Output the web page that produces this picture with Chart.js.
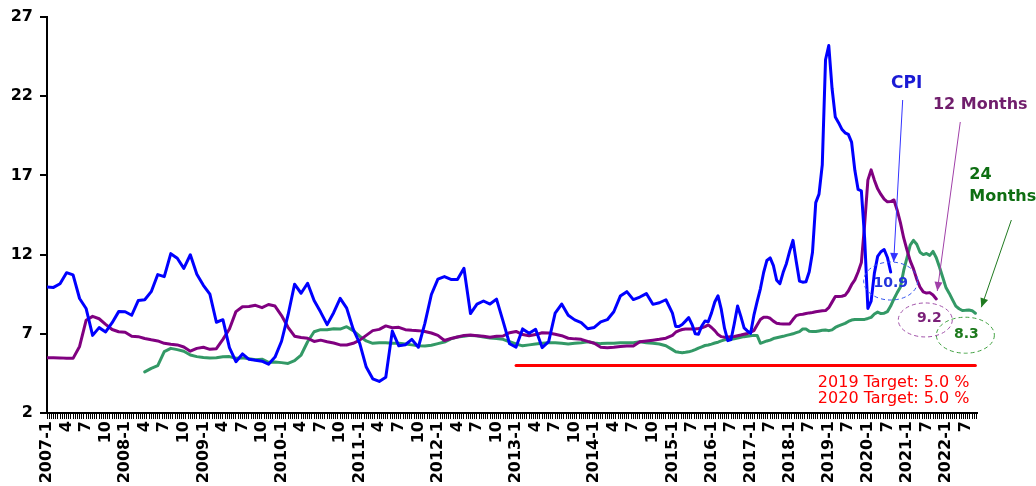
<!DOCTYPE html>
<html>
<head>
<meta charset="utf-8">
<script src="https://cdn.jsdelivr.net/npm/chart.js@4/dist/chart.umd.min.js"></script>
<style>
  html, body { margin: 0; padding: 0; background: #ffffff; }
  #wrap { width: 1036px; height: 486px; }
</style>
</head>
<body>
<div id="wrap"><canvas id="chart" width="1036" height="486"></canvas></div>
<script>
// Axis months: one slot per month up to 2014, half-width slots from 2015 on
const monthlyYears = [2007, 2008, 2009, 2010, 2011, 2012, 2013, 2014];
const halfStepYears = [2015, 2016, 2017, 2018, 2019, 2020, 2021, 2022];
const lastMonthShown = 10; // axis runs to 2022-10

// Consumer prices, annual % change
const cpi = [
  9.95, 9.93, 10.16, 10.86, 10.72, 9.23, 8.60, 6.90, 7.39, 7.12, 7.70, 8.40,
  8.39, 8.17, 9.10, 9.15, 9.66, 10.74, 10.61, 12.06, 11.77, 11.13, 11.99, 10.76,
  10.06, 9.50, 7.73, 7.89, 6.13, 5.24, 5.73, 5.39, 5.33, 5.27, 5.08, 5.53,
  6.53, 8.19, 10.13, 9.56, 10.19, 9.10, 8.37, 7.58, 8.33, 9.24, 8.62, 7.29,
  6.40, 4.90, 4.16, 3.99, 4.26, 7.17, 6.24, 6.31, 6.65, 6.15, 7.66, 9.48,
  10.45, 10.61, 10.43, 10.43, 11.14, 8.28, 8.87, 9.07, 8.88, 9.19, 7.80, 6.37,
  6.16, 7.31, 7.03, 7.29, 6.13, 6.51, 8.30, 8.88, 8.17, 7.88, 7.71, 7.32,
  7.40, 7.75, 7.89, 8.39, 9.38, 9.66, 9.16, 9.32, 9.54, 8.86, 8.96, 9.15,
  8.30, 7.46, 7.46, 7.59, 7.80, 8.02, 7.60, 7.00, 6.97, 7.49, 7.81, 7.76,
  8.32, 9.01, 9.40, 8.54, 7.34, 6.57, 6.64, 7.65, 8.76, 8.10, 7.37, 7.18,
  7.03, 8.16, 9.03, 9.84, 10.87, 11.63, 11.79, 11.30, 10.38, 10.17, 10.88, 11.44,
  12.22, 12.90, 11.58, 10.33, 10.26, 10.29, 10.92, 12.15, 15.28, 15.82, 17.66, 24.30,
  25.20, 22.50, 20.68, 20.33, 19.92, 19.69, 19.59, 19.10, 17.32, 16.11, 16.02, 13.06,
  8.60, 9.06, 10.83, 11.89, 12.18, 12.32, 11.82, 10.9
];

// Expected inflation 12 months ahead
const expect12 = [
  5.49, 5.49, 5.48, 5.45, 5.45, 6.20, 7.85, 8.10, 7.95, 7.60, 7.27, 7.13,
  7.10, 6.85, 6.82, 6.70, 6.62, 6.55, 6.40, 6.34, 6.30, 6.17, 5.90, 6.08,
  6.15, 6.02, 6.06, 6.65, 7.30, 8.40, 8.71, 8.72, 8.80, 8.65, 8.85, 8.75,
  8.15, 7.41, 6.85, 6.77, 6.72, 6.52, 6.60, 6.50, 6.42, 6.30, 6.29, 6.40,
  6.60, 6.90, 7.20, 7.28, 7.50, 7.38, 7.41, 7.26, 7.22, 7.20, 7.15, 7.05,
  6.90, 6.58, 6.70, 6.80, 6.90, 6.92, 6.88, 6.84, 6.78, 6.84, 6.86, 7.07,
  7.15, 6.95, 6.88, 6.95, 7.07, 7.05, 6.97, 6.88, 6.72, 6.68, 6.65, 6.52,
  6.40, 6.15, 6.12, 6.15, 6.20, 6.23, 6.23, 6.50, 6.55, 6.60, 6.65, 6.72,
  6.90, 7.10, 7.20, 7.27, 7.30, 7.30, 7.30, 7.30, 7.33, 7.37, 7.45, 7.56,
  7.40, 7.20, 6.95, 6.82, 6.78, 6.80, 6.82, 6.83, 6.88, 6.92, 6.97, 7.02,
  7.10, 7.20, 7.55, 7.90, 8.05, 8.05, 7.98, 7.80, 7.67, 7.63, 7.62, 7.62,
  7.62, 7.90, 8.15, 8.21, 8.24, 8.28, 8.32, 8.35, 8.39, 8.42, 8.45, 8.47,
  8.65, 9.00, 9.35, 9.35, 9.37, 9.43, 9.70, 10.10, 10.40, 10.90, 11.50, 13.90,
  16.70, 17.35, 16.70, 16.15, 15.80, 15.50, 15.33, 15.35, 15.45, 14.80, 14.00, 13.05,
  12.30, 11.60, 11.10, 10.45, 9.95, 9.65, 9.57, 9.60, 9.45, 9.2
];

// Expected inflation 24 months ahead
const expect24 = [
  null, null, null, null, null, null, null, null, null, null, null, null,
  null, null, null, 4.60, 4.82, 4.99, 5.87, 6.08, 6.00, 5.90, 5.66, 5.56,
  5.50, 5.48, 5.49, 5.55, 5.56, 5.46, 5.48, 5.42, 5.36, 5.40, 5.20, 5.22,
  5.18, 5.13, 5.30, 5.66, 6.50, 7.13, 7.26, 7.26, 7.32, 7.30, 7.45, 7.20,
  6.85, 6.55, 6.40, 6.44, 6.44, 6.41, 6.40, 6.36, 6.30, 6.24, 6.23, 6.28,
  6.38, 6.48, 6.68, 6.80, 6.85, 6.90, 6.88, 6.80, 6.73, 6.70, 6.65, 6.50,
  6.36, 6.24, 6.30, 6.36, 6.40, 6.44, 6.44, 6.40, 6.36, 6.40, 6.44, 6.50,
  6.42, 6.38, 6.40, 6.40, 6.44, 6.44, 6.44, 6.50, 6.44, 6.40, 6.36, 6.25,
  6.00, 5.87, 5.83, 5.81, 5.83, 5.86, 5.92, 6.00, 6.10, 6.18, 6.26, 6.29,
  6.35, 6.42, 6.47, 6.55, 6.62, 6.64, 6.66, 6.69, 6.73, 6.78, 6.82, 6.84,
  6.87, 6.90, 6.90, 6.40, 6.47, 6.55, 6.60, 6.70, 6.75, 6.80, 6.84, 6.90,
  6.95, 7.00, 7.07, 7.14, 7.30, 7.30, 7.16, 7.14, 7.14, 7.18, 7.22, 7.24,
  7.20, 7.25, 7.40, 7.50, 7.58, 7.66, 7.78, 7.87, 7.90, 7.91, 7.91, 7.91,
  7.97, 8.04, 8.25, 8.37, 8.28, 8.30, 8.40, 8.75, 9.20, 9.60, 9.95, 11.00,
  11.80, 12.60, 12.90, 12.65, 12.15, 12.00, 12.07, 11.95, 12.20, 11.80, 11.20, 10.55,
  9.90, 9.55, 9.14, 8.75, 8.58, 8.47, 8.48, 8.50, 8.46, 8.3
];

// Inflation target
const targetLevel = 5.0;
const targetFrom = '2013-1';
const targetYears = [2019, 2020];

// Y axis range
const yMin = 2, yMax = 27, yStep = 5;

// ---------------------------------------------------------------------------
const categories = [];
monthlyYears.forEach(yr => { for (let mo = 1; mo <= 12; mo++) categories.push(yr + '-' + mo); });
halfStepYears.forEach(yr => {
  for (let mo = 1; mo <= 12; mo++) {
    if (yr < halfStepYears[halfStepYears.length - 1] || mo <= lastMonthShown) categories.push(yr + '-' + mo);
  }
});
const splitIndex = monthlyYears.length * 12;

// position of a month on the axis: 3 units per month, 1.5 once the axis compresses
function axisPos(i) {
  return i < splitIndex ? 3 * i : 3 * splitIndex + 1.5 * (i - splitIndex);
}
function categoryAt(u) {
  const i = u < 3 * splitIndex ? u / 3 : splitIndex + (u - 3 * splitIndex) / 1.5;
  return Number.isInteger(i) ? categories[i] : null;
}
const xMax = axisPos(categories.length - 1) + 0.75;

function toPoints(values) {
  const pts = [];
  values.forEach((v, i) => { if (v !== null && v !== undefined) pts.push({ x: axisPos(i), y: v }); });
  return pts;
}

const targetStart = categories.indexOf(targetFrom);
const targetPoints = [
  { x: axisPos(targetStart), y: targetLevel },
  { x: axisPos(categories.length - 1), y: targetLevel }
];

const FONT = "'DejaVu Sans', Verdana, sans-serif";

function lastPoint(values) {
  for (let i = values.length - 1; i >= 0; i--) if (values[i] !== null) return { i, v: values[i] };
  return null;
}

function arrow(ctx, x0, y0, x1, y1, color) {
  ctx.save();
  ctx.strokeStyle = color; ctx.fillStyle = color; ctx.lineWidth = 1;
  ctx.beginPath(); ctx.moveTo(x0, y0); ctx.lineTo(x1, y1); ctx.stroke();
  const a = Math.atan2(y1 - y0, x1 - x0), L = 9, W = 4;
  ctx.beginPath();
  ctx.moveTo(x1, y1);
  ctx.lineTo(x1 - L * Math.cos(a) + W * Math.sin(a), y1 - L * Math.sin(a) - W * Math.cos(a));
  ctx.lineTo(x1 - L * Math.cos(a) - W * Math.sin(a), y1 - L * Math.sin(a) + W * Math.cos(a));
  ctx.closePath(); ctx.fill();
  ctx.restore();
}

function dashedEllipse(ctx, cx, cy, rx, ry, color) {
  ctx.save();
  ctx.strokeStyle = color; ctx.lineWidth = 1; ctx.setLineDash([4, 3]);
  ctx.beginPath(); ctx.ellipse(cx, cy, rx, ry, 0, 0, Math.PI * 2); ctx.stroke();
  ctx.restore();
}

function text(ctx, str, x, y, color, font, align) {
  ctx.save();
  ctx.fillStyle = color; ctx.font = font; ctx.textAlign = align || 'center'; ctx.textBaseline = 'middle';
  ctx.fillText(str, x, y);
  ctx.restore();
}

const notes = {
  id: 'notes',
  afterDatasetsDraw(chart) {
    const { ctx, scales: { x, y } } = chart;
    const endOf = values => {
      const p = lastPoint(values);
      return { px: x.getPixelForValue(axisPos(p.i)), py: y.getPixelForValue(p.v), v: p.v };
    };

    // target caption under the target line
    const tx = x.getPixelForValue(targetPoints[1].x) - 6;
    const ty = y.getPixelForValue(targetLevel);
    targetYears.forEach((yr, k) => {
      text(ctx, yr + ' Target: ' + targetLevel.toFixed(1) + ' %', tx, ty + 17 + k * 16,
        '#ff0000', '16px ' + FONT, 'right');
    });

    // CPI
    const c = endOf(cpi);
    dashedEllipse(ctx, c.px, c.py + 9, 27, 19, '#3355ee');
    text(ctx, c.v.toFixed(1), c.px, c.py + 11, '#2233dd', 'bold 14px ' + FONT);
    arrow(ctx, c.px + 12, 100, c.px + 3, c.py - 10, '#3333ff');
    text(ctx, 'CPI', c.px + 16, 84, '#1a1ad4', 'bold 17px ' + FONT);

    // 12 months
    const p = endOf(expect12);
    dashedEllipse(ctx, p.px - 11, p.py + 21, 27, 17, '#a050a8');
    text(ctx, p.v.toFixed(1), p.px - 7, p.py + 19, '#7a1f78', 'bold 14px ' + FONT);
    arrow(ctx, p.px + 24, 122, p.px + 1, p.py - 8, '#a040a8');
    text(ctx, '12 Months', p.px + 44, 105, '#701e6c', 'bold 16px ' + FONT);

    // 24 months
    const g = endOf(expect24);
    dashedEllipse(ctx, g.px - 10, g.py + 22, 29, 18, '#40a040');
    text(ctx, g.v.toFixed(1), g.px - 9, g.py + 21, '#1d7a1d', 'bold 14px ' + FONT);
    arrow(ctx, g.px + 36, 220, g.px + 6, g.py - 6, '#207a20');
    text(ctx, '24', g.px - 6, 175, '#0e6e12', 'bold 16px ' + FONT, 'left');
    text(ctx, 'Months', g.px - 6, 197, '#0e6e12', 'bold 16px ' + FONT, 'left');
  }
};

const lineStyle = { pointRadius: 0, pointHoverRadius: 0, tension: 0, borderWidth: 3, fill: false,
                    borderJoinStyle: 'round', borderCapStyle: 'round' };

new Chart(document.getElementById('chart'), {
  type: 'line',
  data: {
    datasets: [
      Object.assign({ label: 'Target', data: targetPoints, borderColor: '#ff0000', order: 4 }, lineStyle),
      Object.assign({ label: '24 Months', data: toPoints(expect24), borderColor: '#339966', order: 3 }, lineStyle),
      Object.assign({ label: '12 Months', data: toPoints(expect12), borderColor: '#800080', order: 2 }, lineStyle),
      Object.assign({ label: 'CPI', data: toPoints(cpi), borderColor: '#0000ff', order: 1 }, lineStyle)
    ]
  },
  options: {
    responsive: false,
    animation: false,
    events: [],
    layout: { padding: { top: 17, right: 59, bottom: 0, left: 0 } },
    plugins: { legend: { display: false }, tooltip: { enabled: false } },
    scales: {
      x: {
        type: 'linear',
        min: 0,
        max: xMax,
        afterBuildTicks(scale) {
          const t = [];
          for (let u = 0; u <= Math.floor(xMax); u++) t.push({ value: u });
          scale.ticks = t;
        },
        afterFit(scale) { scale.height = 73; },
        border: { display: true, color: '#000000', width: 2 },
        grid: { drawOnChartArea: false, drawTicks: true, tickLength: 6, color: '#000000', lineWidth: 1 },
        ticks: {
          autoSkip: false,
          minRotation: 90,
          maxRotation: 90,
          padding: 2,
          color: '#000000',
          font: { family: FONT, weight: 'bold', size: 16 },
          callback(value) {
            if (value % 9 !== 0) return '';
            const cat = categoryAt(value);
            if (!cat) return '';
            const mo = cat.split('-')[1];
            return mo === '1' ? cat : mo;
          }
        }
      },
      y: {
        min: yMin,
        max: yMax,
        afterFit(scale) { scale.width = 47; },
        border: { display: true, color: '#000000', width: 2 },
        grid: { drawOnChartArea: false, drawTicks: true, tickLength: 7, color: '#000000', lineWidth: 2 },
        ticks: {
          stepSize: yStep,
          padding: 7,
          color: '#000000',
          font: { family: FONT, weight: 'bold', size: 16 }
        }
      }
    }
  },
  plugins: [notes]
});
</script>
</body>
</html>
